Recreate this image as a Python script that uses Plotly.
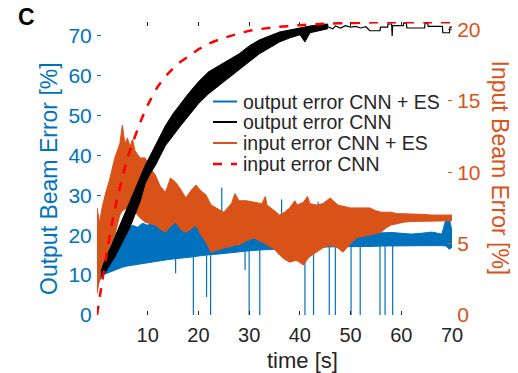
import numpy as np
import plotly.graph_objects as go

# ---------------- data ----------------
# output error CNN + ES (left axis, %): envelope of the noisy trace
blue_t = [0.3, 1, 2, 3, 4, 5, 6, 7, 8, 9, 10, 11, 12, 13, 14, 14.6, 15, 15.6, 16, 17, 18, 19, 20, 21, 22,
          24, 26, 28, 30, 32, 34, 36, 38, 40, 42, 44, 46, 48, 50, 52, 54, 56, 58, 60, 62, 64, 66, 68,
          68.8, 69.5, 70]
blue_lo = [8.0, 10.0, 10.5, 11.0, 11.5, 12.0, 12.3, 12.6, 12.8, 13.0, 13.2, 13.4, 13.5, 13.7, 13.9, 14.0, 14.1,
           14.1, 14.2, 14.3, 14.5, 14.6, 14.8, 15.0, 15.1,
           15.3, 15.6, 15.8, 16.1, 16.3, 16.5, 16.6, 16.7, 16.8, 16.9, 17.0, 17.1, 17.1, 17.1, 17.2, 17.2,
           17.3, 17.3, 17.4, 17.4, 17.4, 17.4, 17.4,
           17.3, 16.5, 17.0]
blue_hi = [14.0, 13.0, 15.5, 17.5, 19.0, 20.5, 21.5, 22.5, 22.0, 23.0, 22.5, 23.5, 22.8, 23.2, 24.5, 23.8, 26.0,
           24.5, 25.0, 24.5, 23.5, 22.8, 23.5, 23.0, 22.5,
           22.8, 22.0, 22.5, 21.8, 21.5, 22.0, 21.5, 21.6, 21.2, 21.4, 21.0, 21.2, 20.8, 21.0, 20.8, 20.9,
           20.6, 20.7, 20.5, 20.3, 20.5, 20.8, 20.3,
           24.0, 24.0, 21.0]
# isolated dropouts / spikes of the CNN + ES output error
drop_t = [15.5, 19.0, 21.6, 22.4, 29.2, 30.0, 32.1, 41.0, 42.7, 45.8, 47.0, 50.1, 51.9, 55.8, 56.8, 58.3]
drop_min = [10.5, 0, 4.5, 0, 11.3, 0, 0, 0, 0, 0, 0, 0, 0, 0, 0, 0]
peak_t = [24.6, 36.4, 43.6]
peak_max = [32.0, 29.0, 28.4]

# output error CNN (left axis, %): noisy band, then a stepped settled trace
black_t = [0.8, 1.5, 2.5, 3.5, 4.5, 5.5, 6.5, 7.5, 8.5, 9.5, 10.5, 11.5, 12.5, 13.5, 15, 16.5, 18,
           20, 22, 24, 26, 28, 30, 32, 34, 36, 38, 40, 41, 42, 44, 45.5]
black_lo = [9.5, 10.5, 12.5, 14.5, 17.0, 19.5, 22.0, 25.0, 28.5, 33.0, 35.5, 37.5, 40.0, 42.5, 45.0, 47.5,
            50.0, 53.0, 55.5, 57.5, 59.5, 61.5, 63.5, 65.5, 67.0, 68.5, 69.5, 70.3, 68.5, 70.8, 71.3, 71.8]
black_hi = [11.0, 13.5, 16.5, 19.5, 22.5, 25.5, 28.5, 31.5, 34.5, 37.5, 40.0, 42.5, 45.0, 47.5, 50.5, 53.0,
            55.5, 58.5, 61.0, 62.5, 64.0, 65.5, 67.5, 69.0, 70.0, 71.0, 71.5, 72.0, 72.3, 72.5, 72.8, 73.0]
step_t = [45.5, 46.5, 47, 48, 49, 50, 51, 52, 53, 53.8, 55.8, 55.9, 57.3, 57.4, 58.1, 58.2, 58.3,
          60.4, 60.5, 61.0, 61.1, 64.6, 64.7, 65.2, 65.3, 68.1, 68.2, 69.5, 69.6, 70]
step_v = [72.3, 71.8, 72.5, 72.0, 72.6, 72.2, 72.4, 72.0, 72.3, 71.3, 71.3, 72.2, 72.2, 73.0, 73.0, 70.0, 72.6,
          72.6, 73.3, 73.3, 72.0, 72.0, 73.2, 73.2, 72.4, 72.4, 70.8, 70.8, 72.2, 72.2]

# input error CNN + ES (right axis, %): envelope of the noisy trace
orange_t = [0.0, 0.5, 1.0, 1.6, 2.5, 3.5, 4.5, 5.0, 5.5, 6.0, 6.5, 7.0, 7.5, 8.5, 9.5, 10.5, 11.5, 12.5,
            13.5, 14.5, 15.5, 16.5, 17.5, 18.5, 19.5, 20.5, 21.5, 22.5, 23.5, 25.0, 26.5, 27.2, 28.0, 29.5,
            31.0, 32.5, 33.2, 33.5, 35.0, 36.0, 37.0, 38.0, 39.0, 39.5, 40.7, 41.5, 42.0, 43.3, 44.5, 46.0,
            47.5, 48.5, 50.0, 51.2, 52.5, 53.8, 55.0, 56.0, 57.0, 58.0, 59.0, 60.5, 62, 64, 66, 68, 70]
orange_lo = [1.5, 2.5, 3.5, 4.0, 4.8, 5.6, 7.0, 7.3, 7.4, 7.5, 7.5, 7.4, 7.2, 6.8, 6.5, 6.4, 6.3, 6.0,
             5.8, 6.2, 6.5, 6.0, 5.8, 6.0, 6.3, 5.6, 5.1, 4.4, 4.5, 4.7, 4.8, 4.9, 4.9, 5.2,
             5.4, 5.1, 5.0, 4.9, 4.6, 4.2, 3.9, 3.7, 3.8, 3.8, 3.5, 3.9, 4.1, 4.4, 4.7, 4.9,
             4.7, 4.4, 5.0, 5.4, 5.5, 5.6, 5.7, 5.8, 6.1, 6.3, 6.4, 6.5, 6.55, 6.55, 6.6, 6.6, 6.6]
orange_hi = [7.5, 6.5, 7.5, 8.4, 9.5, 11.0, 12.0, 13.3, 12.0, 12.4, 11.8, 12.3, 11.5, 11.0, 11.0, 10.3, 9.8, 9.0,
             8.6, 9.6, 9.3, 8.8, 8.2, 8.7, 9.1, 8.7, 8.4, 7.7, 7.5, 7.2, 7.8, 8.5, 8.0, 8.0,
             7.9, 7.8, 8.3, 7.7, 7.3, 7.0, 7.2, 7.5, 8.0, 7.7, 7.9, 8.3, 7.8, 7.7, 7.8, 8.2,
             7.7, 7.6, 7.5, 7.5, 7.5, 7.5, 7.3, 7.2, 7.2, 7.2, 7.1, 7.1, 7.05, 7.05, 7.0, 7.0, 7.0]

# input error CNN (right axis, %)
red_t = [0, 1, 2, 3, 4, 5, 6, 7, 8, 9, 10, 12, 14, 16, 18, 20, 22, 25, 30, 35, 40, 45, 50, 55, 70]
red_v = [0, 2.3, 4.5, 6.5, 8.2, 9.6, 11.0, 12.0, 13.0, 13.9, 14.7, 16.0, 16.9, 17.6, 18.1, 18.6, 19.0,
         19.4, 19.9, 20.15, 20.3, 20.4, 20.45, 20.5, 20.5]

x_ticks = [10, 20, 30, 40, 50, 60, 70]
left_ticks = [0, 10, 20, 30, 40, 50, 60, 70]
right_ticks = [0, 5, 10, 15, 20]
legend_labels = ["output error CNN + ES", "output error CNN", "input error CNN + ES", "input error CNN"]

# ---------------- styling ----------------
BLUE = "#0072BD"
ORANGE = "#D95319"
RED = "#FF0000"
BLACK = "#000000"
AX = "#262626"
FONT = "Liberation Sans, Arial, Helvetica, sans-serif"

W, H = 518, 373
L, R, T, B = 97, 66, 22, 58
PW, PH = W - L - R, H - T - B


def px(xp):
    return (xp - L) / PW


def py(yp):
    return (H - B - yp) / PH


def band(t, lo, hi):
    return list(t) + list(t)[::-1], list(hi) + list(lo)[::-1]


fig = go.Figure()

# blue: output error CNN + ES
bx, by = band(blue_t, blue_lo, blue_hi)
fig.add_trace(go.Scatter(x=bx, y=by, fill="toself", fillcolor=BLUE, mode="lines",
                         line=dict(color=BLUE, width=1), yaxis="y", zorder=0, hoverinfo="skip"))
sx, sy = [], []
for t, m in zip(drop_t, drop_min):
    sx += [t, t, None]
    sy += [float(np.interp(t, blue_t, blue_lo)) + 1.0, m, None]
for t, m in zip(peak_t, peak_max):
    sx += [t, t, None]
    sy += [float(np.interp(t, blue_t, blue_hi)) - 1.0, m, None]
fig.add_trace(go.Scatter(x=sx, y=sy, mode="lines", line=dict(color=BLUE, width=1.2),
                         yaxis="y", zorder=0, hoverinfo="skip"))

# orange: input error CNN + ES
ox, oy = band(orange_t, orange_lo, orange_hi)
fig.add_trace(go.Scatter(x=ox, y=oy, fill="toself", fillcolor=ORANGE, mode="lines",
                         line=dict(color=ORANGE, width=1), yaxis="y2", zorder=1, hoverinfo="skip"))

# black: output error CNN
kx, ky = band(black_t, black_lo, black_hi)
fig.add_trace(go.Scatter(x=kx, y=ky, fill="toself", fillcolor=BLACK, mode="lines",
                         line=dict(color=BLACK, width=1), yaxis="y", zorder=2, hoverinfo="skip"))
fig.add_trace(go.Scatter(x=step_t, y=step_v, mode="lines", line=dict(color=BLACK, width=1.2),
                         yaxis="y", zorder=2, hoverinfo="skip"))

# red dashed: input error CNN
fig.add_trace(go.Scatter(x=red_t, y=red_v, mode="lines", line=dict(color=RED, width=2.5, dash="dash",
                         shape="spline", smoothing=0.6), yaxis="y2", zorder=3, hoverinfo="skip"))

fig.update_layout(
    width=W, height=H, margin=dict(l=L, r=R, t=T, b=B, pad=0),
    paper_bgcolor="white", plot_bgcolor="white", showlegend=False,
    font=dict(family=FONT, color=AX),
    xaxis=dict(range=[0, 70], tickvals=x_ticks, ticks="inside", ticklen=4, tickcolor=AX,
               showline=True, linecolor=AX, linewidth=1, mirror="ticks", showgrid=False,
               zeroline=False, ticklabelstandoff=2,
               tickfont=dict(size=20, color=AX, family=FONT)),
    yaxis=dict(range=[0, 73.5], tickvals=left_ticks, ticks="inside", ticklen=4, tickcolor=BLUE,
               showline=True, linecolor=BLUE, linewidth=1, showgrid=False, zeroline=False,
               tickfont=dict(size=21, color=BLUE, family=FONT)),
    yaxis2=dict(range=[0, 20.52], tickvals=right_ticks, ticks="inside", ticklen=4, tickcolor=ORANGE,
                showline=True, linecolor=ORANGE, linewidth=1, showgrid=False, zeroline=False,
                overlaying="y", side="right",
                tickfont=dict(size=21, color=ORANGE, family=FONT)),
)

ann = [
    dict(text="<b>C</b>", x=px(26.5), y=py(17), font=dict(size=23, color="#000000")),
    dict(text="Output Beam Error [%]", x=px(48.5), y=py(178.5), textangle=-90,
         font=dict(size=23, color=BLUE)),
    dict(text="Input Beam Error [%]", x=px(499), y=py(167.5), textangle=90,
         font=dict(size=23, color=ORANGE)),
    dict(text="time [s]", x=px(302.5), y=py(360), font=dict(size=22, color=AX)),
]
for a in ann:
    a.update(xref="paper", yref="paper", showarrow=False, xanchor="center", yanchor="middle")
    fig.add_annotation(**a)

# legend drawn in place
leg_rows = [101.5, 122, 143, 164]
leg_styles = [dict(color=BLUE, width=2), dict(color=BLACK, width=2),
              dict(color=ORANGE, width=2), dict(color=RED, width=2.5, dash="dash")]
for yrow, lab, st in zip(leg_rows, legend_labels, leg_styles):
    fig.add_shape(type="line", xref="paper", yref="paper", x0=px(213), x1=px(237),
                  y0=py(yrow), y1=py(yrow), line=st)
    fig.add_annotation(text=lab, xref="paper", yref="paper", x=px(241), y=py(yrow),
                       xanchor="left", yanchor="middle", showarrow=False,
                       font=dict(size=19.5, color=AX))

fig.write_html("out.html")
